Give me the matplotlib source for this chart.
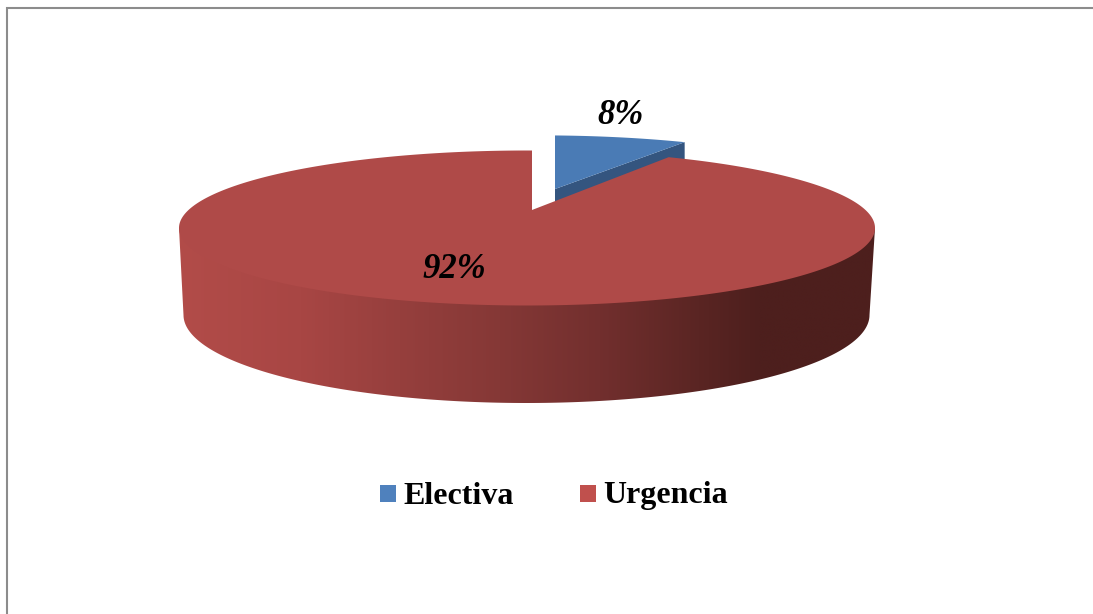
import numpy as np
import matplotlib
matplotlib.use("Agg")
import matplotlib.pyplot as plt
from matplotlib.patches import Polygon, Patch
from matplotlib.colors import LinearSegmentedColormap

categories = ["Electiva", "Urgencia"]
values = [8, 92]
value_labels = ["8%", "92%"]

W, H = 1093, 614
fig = plt.figure(figsize=(W / 100, H / 100), dpi=100)
ax = fig.add_axes([0, 0, 1, 1])
ax.set_xlim(0, W)
ax.set_ylim(H, 0)
ax.axis("off")

# frame
ax.plot([7, 7, W], [H, 8, 8], color="#8c8c8c", lw=1.5, solid_joinstyle="miter")

# projected pie geometry (pixels)
CX, CY, A, B = 527, 228, 348, 77.5      # top rim ellipse
BX, BY, BA, BB = 526.5, 315, 343, 88    # bottom rim ellipse
PX, PY = 532, 210                       # projected pie centre
CP, AP, XP = 0.2323, -24.5, 345         # perspective terms


def rim(theta):
    """Top-rim points for clockwise angle theta (radians) from 12 o'clock."""
    u, v = np.sin(theta), np.cos(theta)
    den = CP * v + 1
    dx = XP * u / den
    dy = (AP * v + PY) / den - PY
    ox, oy = (PX - CX) / A, (PY - CY) / B
    ddx, ddy = dx / A, dy / B
    qa = ddx**2 + ddy**2
    qb = 2 * (ox * ddx + oy * ddy)
    qc = ox**2 + oy**2 - 1
    t = (-qb + np.sqrt(qb**2 - 4 * qa * qc)) / (2 * qa)
    return PX + t * dx, PY + t * dy


def explode(x, y):
    return 555 + 0.949 * (x - PX), 189 + 0.9 * (y - PY) + 0.005 * (x - PX)


edges = np.cumsum([0] + values) / np.sum(values) * 2 * np.pi

# Electiva slice (pulled out)
tb = np.linspace(edges[0], edges[1], 60)
bx, by = explode(*rim(tb))
ax_, ay_ = explode(PX, PY)
ax.add_patch(Polygon([(ax_, ay_), (bx[-1], by[-1]), (bx[-1], by[-1] + 30), (ax_, ay_ + 30)],
                     closed=True, fc="#34557F", ec="none", zorder=2))
ax.add_patch(Polygon(np.r_[[[ax_, ay_]], np.c_[bx, by]], closed=True,
                     fc="#4A7BB5", ec="none", zorder=3))

# Urgencia wall with horizontal shading
stops_x = np.array([179, 300, 400, 500, 600, 700, 760, 875])
stops_c = ["#B24C49", "#A84644", "#963F3D", "#853836", "#722F2E", "#5A2523", "#4D1F1D", "#4D1F1D"]
cmap = LinearSegmentedColormap.from_list(
    "wall", [((x - 179) / (875 - 179), c) for x, c in zip(stops_x, stops_c)])
im = ax.imshow(np.linspace(0, 1, 512)[None, :], extent=[179, 875, 410, 225], cmap=cmap,
               aspect="auto", zorder=4, interpolation="bilinear")
ax.set_xlim(0, W)
ax.set_ylim(H, 0)
ang = np.linspace(0, np.pi, 200)
wall = np.r_[[[CX - A, CY]],
             np.c_[BX - BA * np.cos(ang), BY + BB * np.sin(ang)],
             [[CX + A, CY]]]
clip = Polygon(wall, closed=True, transform=ax.transData, fc="none", ec="none")
ax.add_patch(clip)
im.set_clip_path(clip)

# Urgencia top
tr = np.linspace(edges[1], edges[2], 400)
rx, ry = rim(tr)
ax.add_patch(Polygon(np.r_[[[PX, PY]], np.c_[rx, ry]], closed=True,
                     fc="#AF4A48", ec="none", zorder=5))

# value labels
lab = dict(family="Liberation Serif", weight="bold", style="italic", fontsize=25,
           color="black", ha="center", va="center", zorder=6)
ax.text(620.5, 116, value_labels[0], **lab)
ax.text(454, 269, value_labels[1], **lab)

# legend
handles = [Patch(fc="#4F81BD", ec="none"), Patch(fc="#C0504D", ec="none")]
leg = ax.legend(handles, categories, ncol=2, loc="center", bbox_to_anchor=(554, 497),
                bbox_transform=ax.transData, frameon=False,
                prop=dict(family="Liberation Serif", weight="bold", size=23),
                handlelength=0.5, handleheight=0.45, handletextpad=0.22, columnspacing=2.08,
                borderpad=0, borderaxespad=0)
leg.get_texts()[1].set_y(1)

fig.savefig("out.png", dpi=100)
